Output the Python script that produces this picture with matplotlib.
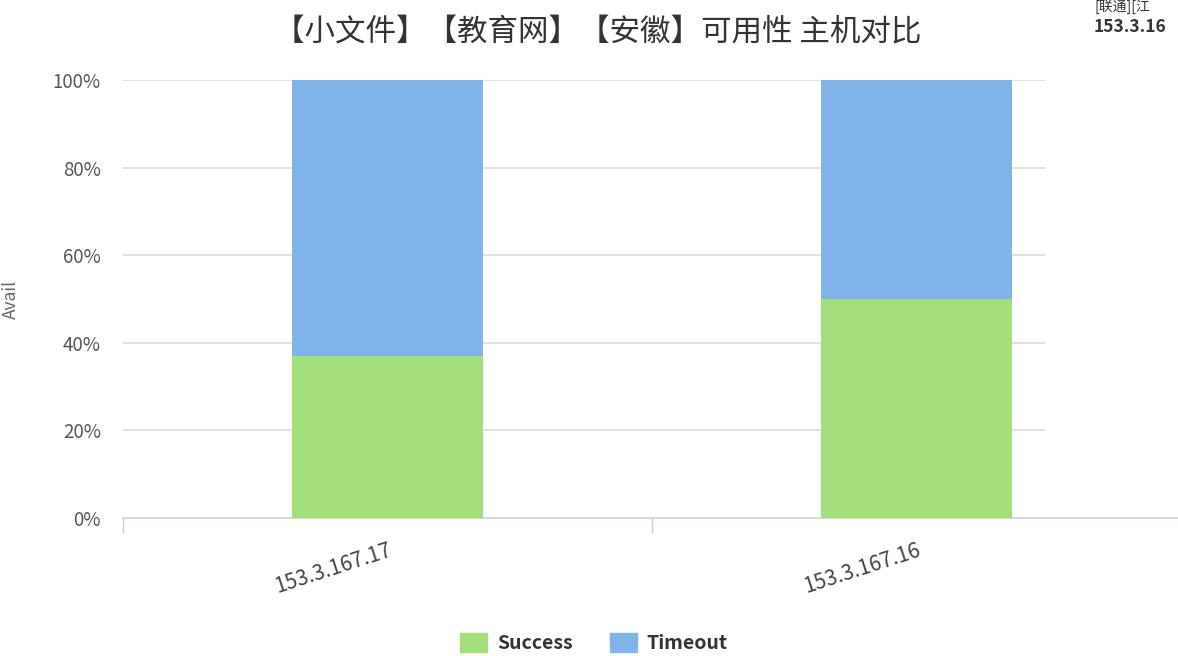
import matplotlib.pyplot as plt
from matplotlib.patches import Patch

plt.rcParams['font.family'] = ['Noto Sans CJK SC', 'DejaVu Sans']

# Data
hosts = ['153.3.167.17', '153.3.167.16']
success = [0.37, 0.50]
timeout = [0.63, 0.50]
y_ticks = [0, 0.2, 0.4, 0.6, 0.8, 1.0]
y_labels = ['0%', '20%', '40%', '60%', '80%', '100%']

green = '#a3e07b'
blue = '#80b4e8'

fig = plt.figure(figsize=(11.78, 6.56), dpi=100)
W, H = 1178, 656
ax = fig.add_axes([123 / W, (H - 518) / H, 1058 / W, 438 / H])

x = range(len(hosts))
ax.bar(x, success, width=0.36, color=green, zorder=3)
ax.bar(x, timeout, bottom=success, width=0.36, color=blue, zorder=3)

ax.set_xlim(-0.5, 1.5)
ax.set_ylim(0, 1)

# gridlines stop where the tooltip box starts
ax.hlines(y_ticks[1:], 0, (1045 - 123) / 1058, transform=ax.get_yaxis_transform(),
          color='#dcdcdc', lw=1.2, zorder=1)

ax.set_yticks(y_ticks)
ax.set_yticklabels(y_labels, fontsize=13.5, color='#555555')
ax.tick_params(axis='y', length=0, pad=16)

ax.set_xticks(list(x))
ax.set_xticklabels(hosts, rotation=18, ha='right', rotation_mode='anchor',
                   fontsize=15, color='#444444')
ax.tick_params(axis='x', length=0, pad=15)
ax.set_xticks([-0.5, 0.5, 1.5], minor=True)
ax.tick_params(axis='x', which='minor', length=11, color='#c8d2dc', width=1)

for s in ['top', 'right', 'left']:
    ax.spines[s].set_visible(False)
ax.spines['bottom'].set_color('#c8d2e0')
ax.spines['bottom'].set_linewidth(1.2)

ax.set_ylabel('Avail', fontsize=12.5, color='#666666')
ax.yaxis.set_label_coords((20 - 123) / 1058, 0.5)

fig.text(598 / W, 1 - 33 / H, '【小文件】【教育网】【安徽】可用性 主机对比',
         ha='center', va='center', fontsize=22, color='#333333')

# tooltip remnant at top right
fig.text(1094 / W, 1 - 7 / H, '[联通][江', ha='left', va='center',
         fontsize=10, color='#333333')
fig.text(1094 / W, 1 - 27 / H, '153.3.16', ha='left', va='center',
         fontsize=12.5, fontweight='bold', color='#333333')

handles = [Patch(color=green, label='Success'), Patch(color=blue, label='Timeout')]
leg = fig.legend(handles=handles, loc='center', bbox_to_anchor=(594 / W, 1 - 643 / H),
                 ncol=2, frameon=False, handlelength=1.4, handleheight=1.15,
                 handletextpad=0.5, columnspacing=1.9,
                 prop={'weight': 'bold', 'size': 14})
for t in leg.get_texts():
    t.set_color('#333333')

fig.savefig('out.png', dpi=100)
